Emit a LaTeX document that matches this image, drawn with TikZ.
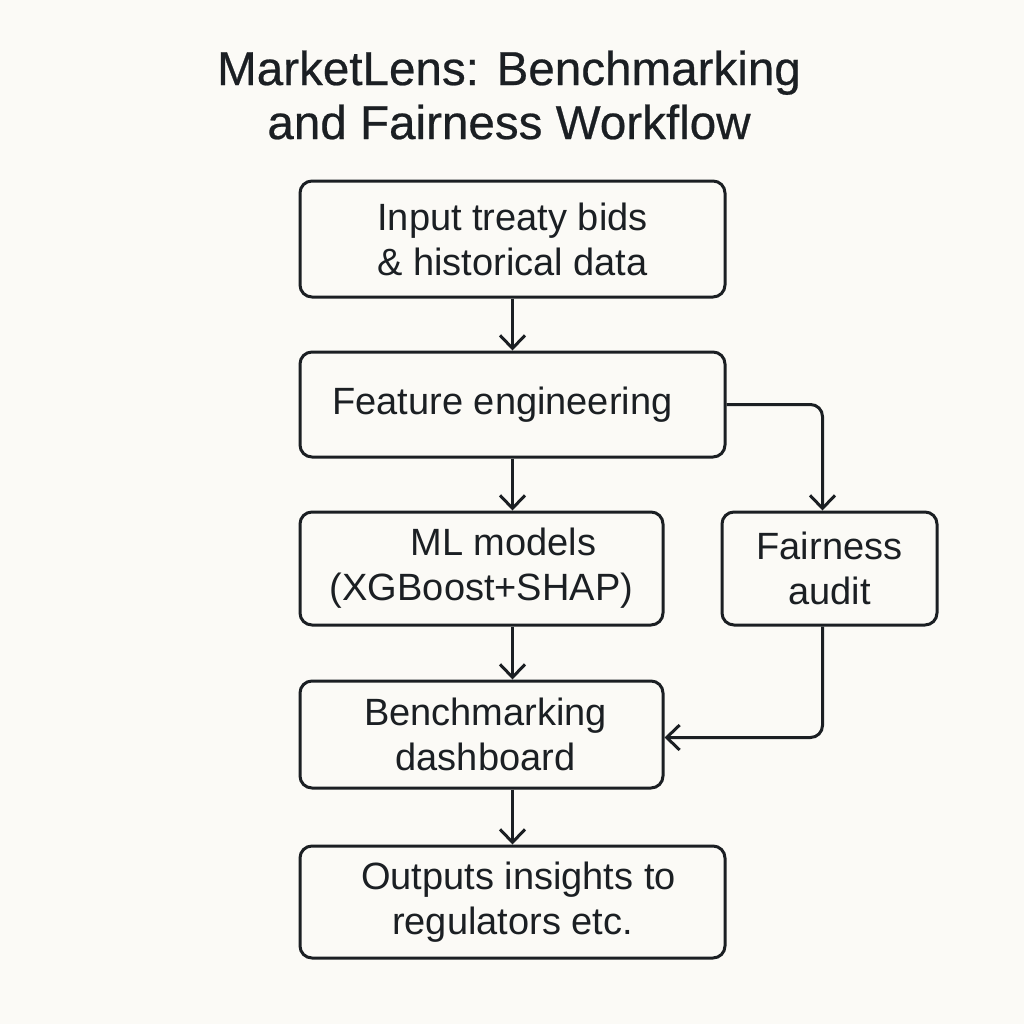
\documentclass[tikz,border=0pt]{standalone}
\usepackage{fontspec}
\setmainfont{Liberation Sans}
\usetikzlibrary{arrows.meta,calc}
\definecolor{ink}{HTML}{1B1F23}
\definecolor{bg}{HTML}{FBFAF6}
\begin{document}
\begin{tikzpicture}[x=0.5pt,y=-0.5pt,
  box/.style={draw=ink,line width=1.5pt,rounded corners=6pt,align=center,
    font=\fontsize{19}{22.5}\selectfont,text=ink,inner sep=0pt},
  conn/.style={draw=ink,line width=1.5pt,rounded corners=6pt,
    -{Straight Barb[length=6.5pt,width=12.5pt,line width=1.5pt]}}]
\useasboundingbox[fill=bg] (0,0) rectangle (1024,1024);
\node[text=ink,align=center,font=\fontsize{23.8}{27}\selectfont\addfontfeatures{FakeBold=0.5}] (title) at (509,95)
  {MarketLens: Benchmarking\\and Fairness Workflow};
\node[box,minimum width=212.5pt,minimum height=58pt] (b1) at (512.5,239)
  {Input treaty bids\\\& historical data};
\node[box,minimum width=212.5pt,minimum height=52.5pt] (b2) at (512.5,404.5)
  {\hspace*{-10pt}Feature engineering};
\node[box,minimum width=181.5pt,minimum height=56.5pt] (b3) at (481.5,568.5)
  {\hspace*{22pt}ML models\\(XGBoost+SHAP)};
\node[box,minimum width=107.5pt,minimum height=56.5pt] (b4) at (829.5,568.5)
  {Fairness\\audit};
\node[box,minimum width=181.5pt,minimum height=53.5pt] (b5) at (481.5,734.5)
  {\hspace*{4pt}Benchmarking\\\hspace*{4pt}dashboard};
\node[box,minimum width=212.5pt,minimum height=56pt] (b6) at (512.5,902)
  {\hspace*{6pt}Outputs insights to\\regulators etc.};
\draw[conn] (b1.south) -- (b2.north);
\draw[conn] (b2.south) -- (b2.south |- b3.north);
\draw[conn] (b2.south |- b3.south) -- (b2.south |- b5.north);
\draw[conn] (b6.north |- b5.south) -- (b6.north);
\draw[conn] (b2.east) -| ([xshift=-3.5]b4.north);
\draw[conn] ([xshift=-3.5]b4.south) |- ([yshift=-1.5]b5.east);
\end{tikzpicture}
\end{document}
